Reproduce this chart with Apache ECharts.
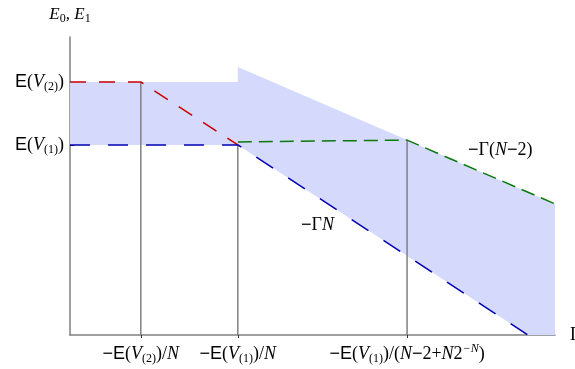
<!DOCTYPE html>
<html><head><meta charset="utf-8">
<script src="https://cdn.jsdelivr.net/npm/echarts@6/dist/echarts.min.js"></script>
<style>html,body{margin:0;padding:0;background:#fff}#c{width:575px;height:369px}</style>
</head><body><div id="c"></div>
<script>
// ---- data (abstract units) ----
var xTicks = [1.46, 3.46, 6.95];            // -E(V2)/N, -E(V1)/N, -E(V1)/(N-2+N2^-N)
var xTickLabels = [
  '{m|−}{e|E}{r|(}{i|V}{sub|(2)}{r|)/}{i|N}',
  '{m|−}{e|E}{r|(}{i|V}{sub|(1)}{r|)/}{i|N}',
  '{m|−}{e|E}{r|(}{i|V}{sub|(1)}{r|)/(}{i|N}{m|−}{r|2+}{i|N}{r|2}{sup|−N}{r|)}'
];
var yTicks = [8.49, 6.38];                  // E(V2), E(V1)
var yTickLabels = [
  '{e|E}{r|(}{i|V}{sub|(2)}{r|)}',
  '{e|E}{r|(}{i|V}{sub|(1)}{r|)}'
];
var redLine   = [[0, 8.49], [1.46, 8.49], [3.46, 6.38]];
var blueLine  = [[0, 6.38], [3.46, 6.38], [9.44, 0]];
var greenLine = [[3.46, 6.48], [6.95, 6.54], [10, 4.40]];
var fillUpper = [[0, 8.49], [3.46, 8.49], [3.46, 8.99], [6.95, 6.54], [10, 4.40]];
var fillLower = [[0, 6.38], [3.46, 6.38], [9.44, 0], [10, 0]];
var verticals = [[1.46, 8.49], [3.46, 6.38], [6.95, 6.54]];

var SERIF = '"Liberation Serif", "DejaVu Serif", serif';
var SANS = '"Liberation Sans", Arial, sans-serif';
var FS = 18, SFS = 12;
var rich = {
  e:   {fontFamily: SANS, fontSize: FS, color: '#000', lineHeight: 22},
  m:   {fontFamily: SANS, fontSize: FS, color: '#000', lineHeight: 22},
  r:   {fontFamily: SERIF, fontSize: FS, color: '#000', lineHeight: 22},
  i:   {fontFamily: SERIF, fontSize: FS, fontStyle: 'italic', color: '#000', lineHeight: 22},
  sub: {fontFamily: SERIF, fontSize: SFS, color: '#000', verticalAlign: 'bottom', lineHeight: 13, padding: [9, 0, 0, 0]},
  sup: {fontFamily: SERIF, fontSize: SFS, fontStyle: 'italic', color: '#000', verticalAlign: 'top', lineHeight: 13, padding: [0, 0, 7, 0]}
};

function nearestIdx(arr, v) {
  var b = 0;
  for (var k = 1; k < arr.length; k++) if (Math.abs(arr[k] - v) < Math.abs(arr[b] - v)) b = k;
  return b;
}

var chart = echarts.init(document.getElementById('c'), null, {renderer: 'canvas'});
var axisCol = '#808080';

function lineSeries(data, color, dash, z) {
  return {
    type: 'line', data: data, symbol: 'none', animation: false, silent: true, z: z || 3,
    lineStyle: {color: color, width: 1.5, type: dash}
  };
}

var series = [];
series.push({
  type: 'custom', animation: false, silent: true, z: 1,
  data: [0],
  renderItem: function (params, api) {
    var pts = [];
    fillUpper.forEach(function (p) { pts.push(api.coord(p)); });
    for (var k = fillLower.length - 1; k >= 0; k--) pts.push(api.coord(fillLower[k]));
    return {type: 'polygon', shape: {points: pts}, style: {fill: '#d5d9fc', stroke: null}};
  }
});
verticals.forEach(function (v) {
  series.push({
    type: 'line', data: [[v[0], 0], v], symbol: 'none', animation: false, silent: true, z: 2,
    lineStyle: {color: axisCol, width: 1.5}
  });
});
series.push(lineSeries(redLine, '#c80000', [16, 13]));
series.push(lineSeries(blueLine, '#0000b4', [20, 18]));
series.push(lineSeries(greenLine, '#0a7a0a', [14, 7]));

chart.setOption({
  animation: false,
  grid: {left: 70, right: 20, top: 37, bottom: 34, containLabel: false, outerBoundsMode: 'none'},
  xAxis: {
    type: 'value', min: 0, max: 10,
    name: 'Γ', nameLocation: 'end', nameGap: 15,
    nameTextStyle: {fontFamily: SERIF, fontSize: 18, color: '#000', verticalAlign: 'middle', padding: [14, 0, 0, 0]},
    splitLine: {show: false},
    axisLine: {show: true, onZero: false, lineStyle: {color: axisCol, width: 1.5}},
    axisTick: {show: true, customValues: xTicks, length: 3, lineStyle: {color: '#333', width: 1}},
    axisLabel: {
      show: true, customValues: xTicks, margin: 8,
      formatter: function (v) { return xTickLabels[nearestIdx(xTicks, v)]; },
      rich: rich
    }
  },
  yAxis: {
    type: 'value', min: 0, max: 10,
    name: '{ni|E}{nsub|0}{nr|, }{ni|E}{nsub|1}', nameLocation: 'end', nameGap: 12,
    nameTextStyle: {
      rich: {
        ni: {fontFamily: SERIF, fontSize: 17, fontStyle: 'italic', color: '#000', lineHeight: 21},
        nr: {fontFamily: SERIF, fontSize: 17, color: '#000', lineHeight: 21},
        nsub: {fontFamily: SERIF, fontSize: 12, color: '#000', verticalAlign: 'bottom', lineHeight: 13, padding: [8, 0, 0, 0]}
      }
    },
    splitLine: {show: false},
    axisLine: {show: true, onZero: false, lineStyle: {color: axisCol, width: 1.5}},
    axisTick: {show: true, inside: true, customValues: yTicks, length: 4, lineStyle: {color: '#222', width: 1}},
    axisLabel: {
      show: true, customValues: yTicks, margin: 6,
      formatter: function (v) { return yTickLabels[nearestIdx(yTicks, v)]; },
      rich: rich
    }
  },
  graphic: [
    {type: 'text', left: 468, top: 141, silent: true, z: 10,
     style: {text: '{m|−}{r|Γ(}{i|N}{m|−}{r|2)}', rich: rich}},
    {type: 'text', left: 301, top: 216, silent: true, z: 10,
     style: {text: '{m|−}{r|Γ}{i|N}', rich: rich}}
  ],
  series: series
});
</script></body></html>
